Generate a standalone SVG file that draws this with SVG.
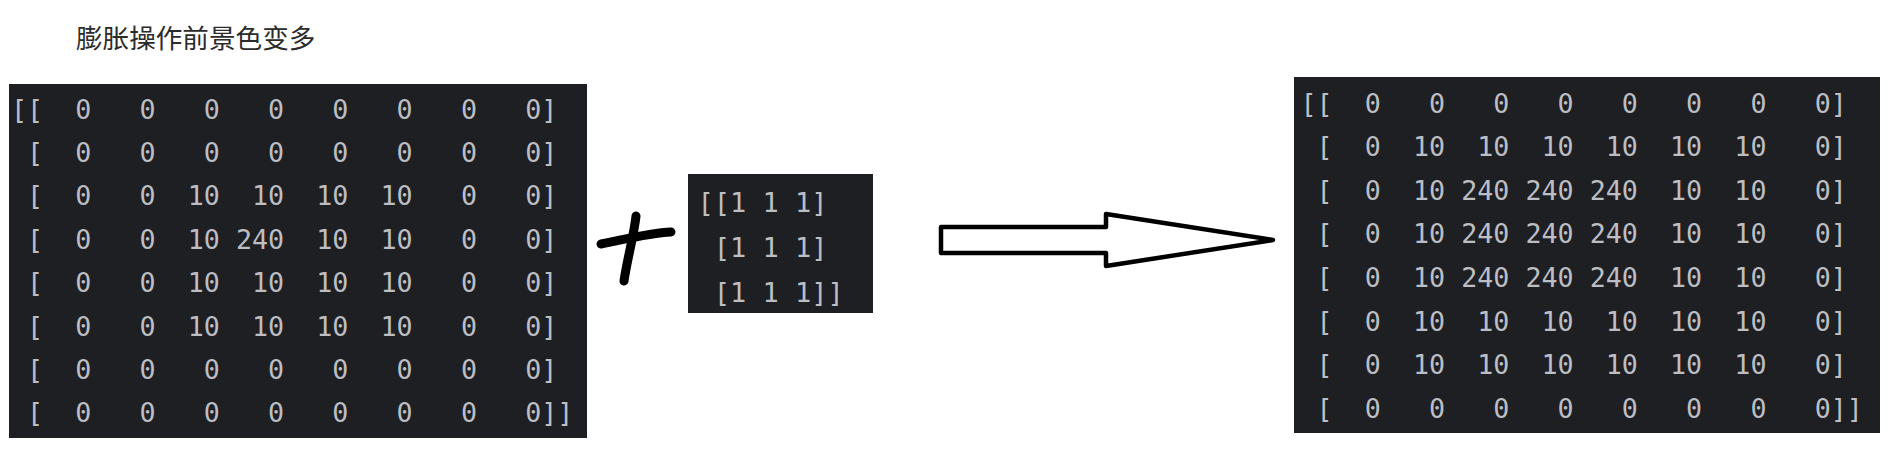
<svg xmlns="http://www.w3.org/2000/svg" width="1897" height="461" viewBox="0 0 1897 461">
<style>
.bg{fill:#1e1f22}
.mono{font-family:"DejaVu Sans Mono","Liberation Mono",monospace;font-size:26.7px;fill:#bcbec4;white-space:pre}
.title{font-family:"Noto Sans CJK SC","Noto Sans",sans-serif;font-size:26.6px;fill:#2b2b2b}
.ink{fill:none;stroke:#000;stroke-linecap:round;stroke-linejoin:round}
</style>
<rect width="1897" height="461" fill="#fff"/>
<g id="title"><text class="title" x="76" y="48">膨胀操作前景色变多</text></g>
<g id="input-matrix">
<rect class="bg" x="9" y="84" width="578" height="354"/>
<text class="mono" xml:space="preserve"><tspan x="11" y="118.5">[[  0   0   0   0   0   0   0   0]</tspan><tspan x="11" y="161.9"> [  0   0   0   0   0   0   0   0]</tspan><tspan x="11" y="205.3"> [  0   0  10  10  10  10   0   0]</tspan><tspan x="11" y="248.7"> [  0   0  10 240  10  10   0   0]</tspan><tspan x="11" y="292.1"> [  0   0  10  10  10  10   0   0]</tspan><tspan x="11" y="335.5"> [  0   0  10  10  10  10   0   0]</tspan><tspan x="11" y="378.9"> [  0   0   0   0   0   0   0   0]</tspan><tspan x="11" y="422.3"> [  0   0   0   0   0   0   0   0]]</tspan></text>
</g>
<g id="plus">
<path class="ink" stroke-width="9" d="M601 244 C618 241 648 233 671 232"/>
<path class="ink" stroke-width="9" d="M636 216 C634 235 627 260 624 281"/>
</g>
<g id="kernel">
<rect class="bg" x="688" y="174" width="185" height="139"/>
<text class="mono" xml:space="preserve" style="font-size:27px"><tspan x="697.5" y="212">[[1 1 1]</tspan><tspan x="697.5" y="257"> [1 1 1]</tspan><tspan x="697.5" y="302"> [1 1 1]]</tspan></text>
</g>
<g id="connectors">
<path d="M941 227 L1106 227 L1106 214 L1273 240 L1106 266 L1106 253 L941 253 Z" fill="#fff" stroke="#000" stroke-width="4.5" stroke-linejoin="round"/>
</g>
<g id="output-matrix">
<rect class="bg" x="1294" y="77" width="586" height="356"/>
<text class="mono" xml:space="preserve"><tspan x="1300.5" y="112.5">[[  0   0   0   0   0   0   0   0]</tspan><tspan x="1300.5" y="156.1"> [  0  10  10  10  10  10  10   0]</tspan><tspan x="1300.5" y="199.7"> [  0  10 240 240 240  10  10   0]</tspan><tspan x="1300.5" y="243.3"> [  0  10 240 240 240  10  10   0]</tspan><tspan x="1300.5" y="286.9"> [  0  10 240 240 240  10  10   0]</tspan><tspan x="1300.5" y="330.5"> [  0  10  10  10  10  10  10   0]</tspan><tspan x="1300.5" y="374.1"> [  0  10  10  10  10  10  10   0]</tspan><tspan x="1300.5" y="417.7"> [  0   0   0   0   0   0   0   0]]</tspan></text>
</g>
</svg>
